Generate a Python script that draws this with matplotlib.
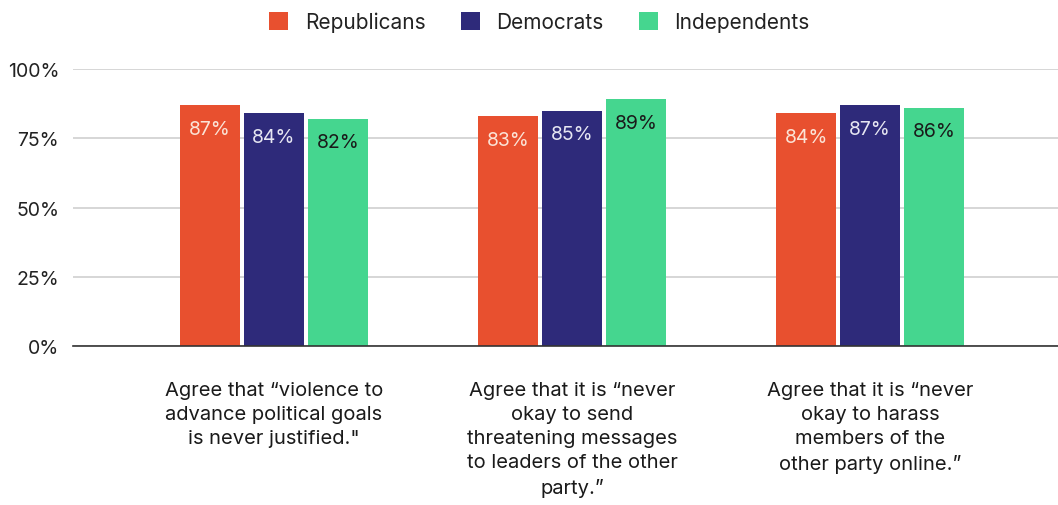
import matplotlib
matplotlib.use('Agg')
import matplotlib.pyplot as plt
import numpy as np

plt.rcParams['font.family'] = ['Inter', 'DejaVu Sans']

# Data
categories = [
    'Agree that \u201cviolence to\nadvance political goals\nis never justified."',
    'Agree that it is \u201cnever\nokay to send\nthreatening messages\nto leaders of the other\nparty.\u201d',
    'Agree that it is \u201cnever\nokay to harass\nmembers of the\nother party online.\u201d',
]
series_names = ['Republicans', 'Democrats', 'Independents']
republicans = [87, 83, 84]
democrats = [84, 85, 87]
independents = [82, 89, 86]

colors = ['#E8502F', '#2E2A7A', '#45D68F']
label_colors = ['#FBE3D6', '#E6E6F2', '#1A1A1A']

fig = plt.figure(figsize=(10.58, 5.06), dpi=100)
ax = fig.add_axes([73 / 1058, 1 - 347 / 506, (1058 - 73) / 1058, (347 - 70) / 506])

x = np.arange(len(categories))
width = 0.2
gap = 0.215
values = [republicans, democrats, independents]
for i, (name, vals) in enumerate(zip(series_names, values)):
    xs = x + (i - 1) * gap
    ax.bar(xs, vals, width, color=colors[i], label=name, zorder=3)
    for xi, v in zip(xs, vals):
        ax.text(xi, v - 8.5, f'{v}%', ha='center', va='center', fontsize=14,
                color=label_colors[i], zorder=4)

ax.set_ylim(0, 100)
ax.set_xlim(-0.674, 2.63)
ax.set_yticks([0, 25, 50, 75, 100])
ax.set_yticklabels(['0%', '25%', '50%', '75%', '100%'], fontsize=14, color='#222222')
ax.tick_params(axis='y', length=0, pad=10)
ax.tick_params(axis='x', length=0)
ax.set_xticks([])
ax.grid(axis='y', color='#D0D0D0', linewidth=1.2, zorder=0)
for s in ['top', 'right', 'left']:
    ax.spines[s].set_visible(False)
ax.spines['bottom'].set_color('#333333')
ax.spines['bottom'].set_linewidth(1.2)
ax.spines['bottom'].set_zorder(5)

for xi, lab in zip(x, categories):
    ax.text(xi, -12.5, lab, ha='center', va='top', fontsize=14.5, color='#1A1A1A',
            linespacing=1.44, transform=ax.transData, clip_on=False)

leg = fig.legend(loc='upper center', bbox_to_anchor=(0.51, 1.012), ncol=3, frameon=False,
                 fontsize=15, handlelength=0.9, handleheight=0.9, handletextpad=0.8,
                 columnspacing=1.7)
for t in leg.get_texts():
    t.set_color('#222222')

plt.savefig('out.png', dpi=100)
